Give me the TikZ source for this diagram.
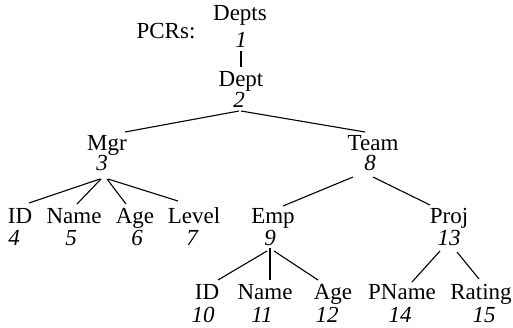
\documentclass[tikz,border=0pt]{standalone}
\usepackage{fontspec}
\setmainfont{Liberation Serif}
\begin{document}
\begin{tikzpicture}[x=0.5pt,y=-0.5pt,
  lbl/.style={inner sep=0pt, anchor=base, font=\fontsize{11.5}{13}\selectfont},
  num/.style={lbl, font=\fontsize{11.5}{13}\selectfont\itshape},
  edge/.style={line width=0.55pt}]
\useasboundingbox (0,0) rectangle (513,327);

% labels: element names with their italic numbers underneath
\node[lbl] (pcrs) at (166,38) {PCRs:};
\node[lbl] (depts) at (240,20) {Depts};   \node[num] (n1) at (241,47) {1};
\node[lbl] (dept) at (241,86) {Dept};     \node[num] (n2) at (239,107) {2};
\node[lbl] (mgr) at (107,150) {Mgr};      \node[num] (n3) at (102,170) {3};
\node[lbl] (team) at (373,150) {Team};    \node[num] (n8) at (370,170) {8};
\node[lbl] (id1) at (20,223) {ID};        \node[num] (n4) at (14,245) {4};
\node[lbl] (name1) at (74,223) {Name};    \node[num] (n5) at (71,245) {5};
\node[lbl] (age1) at (135,223) {Age};     \node[num] (n6) at (137,245) {6};
\node[lbl] (level) at (194,223) {Level};  \node[num] (n7) at (192,245) {7};
\node[lbl] (emp) at (273,223) {Emp};      \node[num] (n9) at (270,245) {9};
\node[lbl] (proj) at (449,223) {Proj};    \node[num] (n13) at (449,245) {13};
\node[lbl] (id2) at (207,299) {ID};       \node[num] (n10) at (203,322) {10};
\node[lbl] (name2) at (265,299) {Name};   \node[num] (n11) at (262,322) {11};
\node[lbl] (age2) at (333,299) {Age};     \node[num] (n12) at (327,322) {12};
\node[lbl] (pname) at (402,299) {PName};  \node[num] (n14) at (400,322) {14};
\node[lbl] (rating) at (481,299) {Rating};\node[num] (n15) at (484,322) {15};

% connectors
\draw[edge] ([shift={(0,4)}]n1.base) -- ([shift={(0,-19)}]dept.base);
\draw[edge] ([shift={(0,4)}]n2.base) -- ([shift={(18,-18)}]mgr.base);
\draw[edge] ([shift={(2,4)}]n2.base) -- ([shift={(-8,-18)}]team.base);
\draw[edge] ([shift={(-2,9)}]n3.base) -- ([shift={(9,-20)}]id1.base);
\draw[edge] ([shift={(-1,9)}]n3.base) -- ([shift={(3,-19)}]name1.base);
\draw[edge] ([shift={(5,9)}]n3.base) -- ([shift={(-9,-19)}]age1.base);
\draw[edge] ([shift={(6,9)}]n3.base) -- ([shift={(-16,-22)}]level.base);
\draw[edge] ([shift={(-17,7)}]n8.base) -- ([shift={(10,-17)}]emp.base);
\draw[edge] ([shift={(3,7)}]n8.base) -- ([shift={(-19,-18)}]proj.base);
\draw[edge] ([shift={(-3,6)}]n9.base) -- ([shift={(11,-19)}]id2.base);
\draw[edge] ([shift={(0,3)}]n9.base) -- ([shift={(5,-19)}]name2.base);
\draw[edge] ([shift={(4,6)}]n9.base) -- ([shift={(-15,-19)}]age2.base);
\draw[edge] ([shift={(-9,6)}]n13.base) -- ([shift={(10,-17)}]pname.base);
\draw[edge] ([shift={(8,7)}]n13.base) -- ([shift={(-2,-20)}]rating.base);
\end{tikzpicture}
\end{document}
